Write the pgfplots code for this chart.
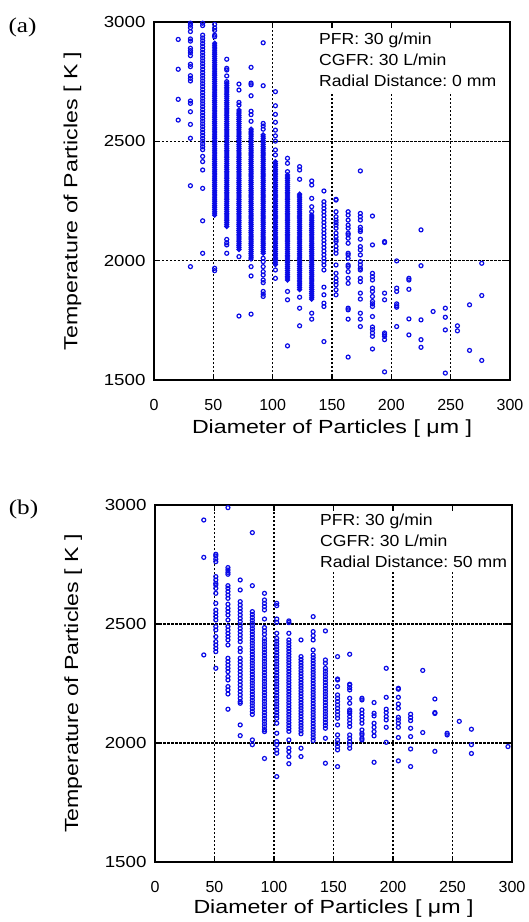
\documentclass[border=0pt]{standalone}
\usepackage{fontspec}
\setmainfont{Liberation Sans}
\newfontfamily\seriffont{Liberation Serif}
\usepackage{graphicx}
\usepackage{pgfplots}
\pgfplotsset{compat=1.18}
\frenchspacing
\definecolor{ptblue}{RGB}{10,10,230}
\newcommand\hs[2]{\scalebox{#1}[1]{#2}}
\pgfplotsset{
 myaxis/.style={
  scale only axis, axis on top,
  xmin=0,xmax=300,ymin=1500,ymax=3000,
  xtick={0,50,...,300}, ytick={1500,2000,2500,3000},
  grid=major,
  major grid style={black, line width=1.6pt, dash pattern=on 2.5pt off 1.5pt},
  axis line style={line width=2.8pt},
  tick align=inside, major tick length=6pt,
  tick style={black, line width=1.2pt},
  /pgf/number format/assume math mode=true,
  /pgf/number format/1000 sep={},
  xticklabel style={font=\fontsize{16}{19}\selectfont, yshift=-16pt},
  yticklabel style={font=\fontsize{16}{19}\selectfont, xshift=-5pt},
  yticklabel={\hs{1.17}{\pgfmathprintnumber{\tick}}},
  label style={font=\fontsize{19}{23}\selectfont},
  xlabel={\hs{1.22}{Diameter of Particles [ μm ]}},
  ylabel={\hs{1.22}{Temperature of Particles [ K ]}},
  ylabel style={at={(axis description cs:-0.229,0.5)}, anchor=center},
 },
 pts/.style={only marks, mark=o, mark size=2.0pt, color=ptblue, mark options={line width=1.2pt}},
 dense/.style={only marks, mark=o, mark size=1.8pt, color=ptblue, mark options={line width=1.5pt}},
}
\tikzset{nt/.style={anchor=base west, inner sep=0pt, font=\fontsize{16}{19}\selectfont}}
\begin{document}
\begin{tikzpicture}[x=1pt,y=1pt]
\useasboundingbox (0,0) rectangle (529,-922);
\node[font=\seriffont\fontsize{21}{24}\selectfont] at (22.5,-27.5) {\hs{1.2}{(a)}};
\node[font=\seriffont\fontsize{21}{24}\selectfont] at (23.5,-509) {\hs{1.2}{(b)}};
\begin{axis}[myaxis, width=356pt, height=358pt, at={(154pt,-380pt)}, anchor=south west,
  xlabel style={at={(axis description cs:0.5,-0.136)}, anchor=center}]
\addplot[pts] coordinates {
(20.4,2927)(20.4,2802)(20.4,2676)(20.4,2589)
(30.7,2995)(30.7,2987)(30.7,2976)(30.7,2960)(30.7,2929)(30.7,2920)(30.7,2890)(30.7,2880)(30.7,2871)(30.7,2859)(30.7,2823)(30.7,2813)(30.7,2775)(30.7,2764)(30.7,2753)(30.7,2669)(30.7,2659)(30.7,2624)(30.7,2571)(30.7,2513)(30.7,2314)(30.7,1975)
(41,2995)(41,2985)(41,2945)(41,2933)(41,2921)(41,2909)(41,2897)(41,2885)(41,2873)(41,2861)(41,2849)(41,2837)(41,2825)(41,2813)(41,2801)(41,2789)(41,2777)(41,2765)(41,2753)(41,2741)(41,2729)(41,2717)(41,2705)(41,2693)(41,2681)(41,2669)(41,2657)(41,2645)(41,2633)(41,2621)(41,2609)(41,2597)(41,2585)(41,2573)(41,2561)(41,2549)(41,2537)(41,2525)(41,2513)(41,2501)(41,2489)(41,2477)(41,2465)(41,2437)(41,2415)(41,2380)(41,2303)(41,2167)(41,2031)
(51.1,2990)(51.1,2975)(51.1,2965)(51.1,2945)(51.1,2938)(51.1,1968)(51.1,1958)
(61.3,2844)(61.3,2806)(61.3,2799)(61.3,2774)(61.3,2750)(61.3,2089)(61.3,2075)(61.3,2066)(61.3,2031)
(71.6,2740)(71.6,2715)(71.6,2663)(71.6,2652)(71.6,2017)(71.6,1768)
(81.8,2810)(81.8,2744)(81.8,2737)(81.8,2691)(81.8,2626)(81.8,2612)(81.8,2584)(81.8,1975)(81.8,1936)(81.8,1776)
(92,2913)(92,2733)(92,2575)(92,2564)(92,2551)(92,2010)(92,1996)(92,1975)(92,1954)(92,1940)(92,1919)(92,1908)(92,1871)(92,1860)(92,1850)
(102.3,2708)(102.3,2649)(102.3,2613)(102.3,2580)(102.3,2547)(102.3,2523)(102.3,2501)(102.3,2464)(102.3,2443)(102.3,1961)(102.3,1926)
(112.5,2429)(112.5,2408)(112.5,2373)(112.5,1871)(112.5,1836)(112.5,1643)
(122.7,2394)(122.7,2380)(122.7,2341)(122.7,1847)(122.7,1801)(122.7,1727)
(132.9,2334)(132.9,2317)(132.9,2261)(132.9,2226)(132.9,2205)(132.9,1780)(132.9,1755)
(143.2,2292)(143.2,2247)(143.2,2233)(143.2,2219)(143.2,2205)(143.2,2190)(143.2,2175)(143.2,2160)(143.2,2145)(143.2,2130)(143.2,2115)(143.2,2100)(143.2,2085)(143.2,2070)(143.2,2055)(143.2,2040)(143.2,2025)(143.2,2010)(143.2,1996)(143.2,1982)(143.2,1961)(143.2,1889)(143.2,1857)(143.2,1822)(143.2,1808)(143.2,1661)
(153.4,2257)(153.4,2254)(153.4,2205)(153.4,2184)(153.4,2170)(153.4,2160)(153.4,2149)(153.4,2136)(153.4,2115)(153.4,2100)(153.4,2087)(153.4,2080)(153.4,2060)(153.4,2045)(153.4,2031)(153.4,1982)(153.4,1947)(153.4,1926)(153.4,1912)(153.4,1899)(153.4,1878)(153.4,1857)
(163.6,2205)(163.6,2191)(163.6,2170)(163.6,2149)(163.6,2136)(163.6,2115)(163.6,2108)(163.6,2094)(163.6,2073)(163.6,2031)(163.6,2024)(163.6,2010)(163.6,1982)(163.6,1975)(163.6,1954)(163.6,1926)(163.6,1905)(163.6,1801)(163.6,1794)(163.6,1755)(163.6,1596)
(173.9,2376)(173.9,2198)(173.9,2184)(173.9,2170)(173.9,2140)(173.9,2129)(173.9,2122)(173.9,2090)(173.9,2059)(173.9,2045)(173.9,2024)(173.9,1996)(173.9,1982)(173.9,1968)(173.9,1961)(173.9,1926)(173.9,1912)(173.9,1864)(173.9,1839)(173.9,1780)(173.9,1755)(173.9,1724)
(184.1,2187)(184.1,2066)(184.1,1947)(184.1,1933)(184.1,1919)(184.1,1885)(184.1,1871)(184.1,1850)(184.1,1829)(184.1,1819)(184.1,1808)(184.1,1766)(184.1,1722)(184.1,1711)(184.1,1697)(184.1,1683)(184.1,1630)
(194.3,2080)(194.3,2076)(194.3,1864)(194.3,1836)(194.3,1697)(194.3,1690)(194.3,1683)(194.3,1669)(194.3,1534)
(204.5,1999)(204.5,1885)(204.5,1871)(204.5,1819)(204.5,1811)(204.5,1805)(204.5,1724)
(214.8,1926)(214.8,1919)(214.8,1880)(214.8,1756)(214.8,1689)
(225,2129)(225,1979)(225,1752)(225,1669)(225,1637)
(235.2,1787)
(245.5,1801)(245.5,1763)(245.5,1710)(245.5,1529)
(255.7,1727)(255.7,1706)
(265.9,1815)(265.9,1624)
(276.2,1989)(276.2,1854)(276.2,1582)
};
\addplot[dense] coordinates {
(51.1,2911)(51.1,2903)(51.1,2895)(51.1,2887)(51.1,2879)(51.1,2871)(51.1,2863)(51.1,2855)(51.1,2847)(51.1,2839)(51.1,2831)(51.1,2823)(51.1,2815)(51.1,2807)(51.1,2799)(51.1,2791)(51.1,2783)(51.1,2775)(51.1,2767)(51.1,2759)(51.1,2751)
(51.1,2743)(51.1,2735)(51.1,2727)(51.1,2719)(51.1,2711)(51.1,2703)(51.1,2695)(51.1,2687)(51.1,2679)(51.1,2671)(51.1,2663)(51.1,2655)(51.1,2647)(51.1,2639)
(51.1,2631)(51.1,2623)(51.1,2615)(51.1,2607)(51.1,2599)(51.1,2591)(51.1,2583)(51.1,2575)(51.1,2567)(51.1,2559)
(51.1,2551)(51.1,2543)(51.1,2535)
(51.1,2527)(51.1,2519)(51.1,2511)(51.1,2503)(51.1,2495)(51.1,2487)(51.1,2479)(51.1,2471)(51.1,2463)(51.1,2455)(51.1,2447)(51.1,2439)(51.1,2431)(51.1,2423)
(51.1,2415)(51.1,2407)(51.1,2399)(51.1,2391)(51.1,2383)(51.1,2375)(51.1,2367)
(51.1,2359)(51.1,2351)(51.1,2343)(51.1,2335)(51.1,2327)(51.1,2319)(51.1,2311)(51.1,2303)(51.1,2295)(51.1,2287)
(51.1,2279)(51.1,2271)(51.1,2263)(51.1,2255)(51.1,2247)(51.1,2239)(51.1,2231)(51.1,2223)(51.1,2215)(51.1,2207)(51.1,2199)
(51.1,2191)
};
\addplot[dense] coordinates {
(61.3,2743)(61.3,2735)(61.3,2727)(61.3,2719)(61.3,2711)(61.3,2703)(61.3,2695)(61.3,2687)(61.3,2679)(61.3,2671)(61.3,2663)(61.3,2655)(61.3,2647)(61.3,2639)
(61.3,2631)(61.3,2623)(61.3,2615)(61.3,2607)(61.3,2599)(61.3,2591)(61.3,2583)(61.3,2575)(61.3,2567)(61.3,2559)
(61.3,2551)(61.3,2543)(61.3,2535)
(61.3,2527)(61.3,2519)(61.3,2511)(61.3,2503)(61.3,2495)(61.3,2487)(61.3,2479)(61.3,2471)(61.3,2463)(61.3,2455)(61.3,2447)(61.3,2439)(61.3,2431)(61.3,2423)
(61.3,2415)(61.3,2407)(61.3,2399)(61.3,2391)(61.3,2383)(61.3,2375)(61.3,2367)
(61.3,2359)(61.3,2351)(61.3,2343)(61.3,2335)(61.3,2327)(61.3,2319)(61.3,2311)(61.3,2303)(61.3,2295)(61.3,2287)
(61.3,2279)(61.3,2271)(61.3,2263)(61.3,2255)(61.3,2247)(61.3,2239)(61.3,2231)(61.3,2223)(61.3,2215)(61.3,2207)(61.3,2199)
(61.3,2191)(61.3,2183)(61.3,2175)(61.3,2167)(61.3,2159)(61.3,2151)
(61.3,2143)
};
\addplot[dense] coordinates {
(71.6,2631)(71.6,2623)(71.6,2615)(71.6,2607)(71.6,2599)(71.6,2591)(71.6,2583)(71.6,2575)(71.6,2567)(71.6,2559)
(71.6,2551)(71.6,2543)(71.6,2535)
(71.6,2527)(71.6,2519)(71.6,2511)(71.6,2503)(71.6,2495)(71.6,2487)(71.6,2479)(71.6,2471)(71.6,2463)(71.6,2455)(71.6,2447)(71.6,2439)(71.6,2431)(71.6,2423)
(71.6,2415)(71.6,2407)(71.6,2399)(71.6,2391)(71.6,2383)(71.6,2375)(71.6,2367)
(71.6,2359)(71.6,2351)(71.6,2343)(71.6,2335)(71.6,2327)(71.6,2319)(71.6,2311)(71.6,2303)(71.6,2295)(71.6,2287)
(71.6,2279)(71.6,2271)(71.6,2263)(71.6,2255)(71.6,2247)(71.6,2239)(71.6,2231)(71.6,2223)(71.6,2215)(71.6,2207)(71.6,2199)
(71.6,2191)(71.6,2183)(71.6,2175)(71.6,2167)(71.6,2159)(71.6,2151)
(71.6,2143)(71.6,2135)(71.6,2127)(71.6,2119)(71.6,2111)(71.6,2103)(71.6,2095)(71.6,2087)(71.6,2079)(71.6,2071)(71.6,2063)(71.6,2055)
(71.6,2047)
};
\addplot[dense] coordinates {
(81.8,2551)(81.8,2543)(81.8,2535)
(81.8,2527)(81.8,2519)(81.8,2511)(81.8,2503)(81.8,2495)(81.8,2487)(81.8,2479)(81.8,2471)(81.8,2463)(81.8,2455)(81.8,2447)(81.8,2439)(81.8,2431)(81.8,2423)
(81.8,2415)(81.8,2407)(81.8,2399)(81.8,2391)(81.8,2383)(81.8,2375)(81.8,2367)
(81.8,2359)(81.8,2351)(81.8,2343)(81.8,2335)(81.8,2327)(81.8,2319)(81.8,2311)(81.8,2303)(81.8,2295)(81.8,2287)
(81.8,2279)(81.8,2271)(81.8,2263)(81.8,2255)(81.8,2247)(81.8,2239)(81.8,2231)(81.8,2223)(81.8,2215)(81.8,2207)(81.8,2199)
(81.8,2191)(81.8,2183)(81.8,2175)(81.8,2167)(81.8,2159)(81.8,2151)
(81.8,2143)(81.8,2135)(81.8,2127)(81.8,2119)(81.8,2111)(81.8,2103)(81.8,2095)(81.8,2087)(81.8,2079)(81.8,2071)(81.8,2063)(81.8,2055)
(81.8,2047)(81.8,2039)(81.8,2031)(81.8,2023)(81.8,2015)(81.8,2007)
};
\addplot[dense] coordinates {
(92,2527)(92,2519)(92,2511)(92,2503)(92,2495)(92,2487)(92,2479)(92,2471)(92,2463)(92,2455)(92,2447)(92,2439)(92,2431)(92,2423)
(92,2415)(92,2407)(92,2399)(92,2391)(92,2383)(92,2375)(92,2367)
(92,2359)(92,2351)(92,2343)(92,2335)(92,2327)(92,2319)(92,2311)(92,2303)(92,2295)(92,2287)
(92,2279)(92,2271)(92,2263)(92,2255)(92,2247)(92,2239)(92,2231)(92,2223)(92,2215)(92,2207)(92,2199)
(92,2191)(92,2183)(92,2175)(92,2167)(92,2159)(92,2151)
(92,2143)(92,2135)(92,2127)(92,2119)(92,2111)(92,2103)(92,2095)(92,2087)(92,2079)(92,2071)(92,2063)(92,2055)
(92,2047)(92,2039)(92,2031)
};
\addplot[dense] coordinates {
(102.3,2415)(102.3,2407)(102.3,2399)(102.3,2391)(102.3,2383)(102.3,2375)(102.3,2367)
(102.3,2359)(102.3,2351)(102.3,2343)(102.3,2335)(102.3,2327)(102.3,2319)(102.3,2311)(102.3,2303)(102.3,2295)(102.3,2287)
(102.3,2279)(102.3,2271)(102.3,2263)(102.3,2255)(102.3,2247)(102.3,2239)(102.3,2231)(102.3,2223)(102.3,2215)(102.3,2207)(102.3,2199)
(102.3,2191)(102.3,2183)(102.3,2175)(102.3,2167)(102.3,2159)(102.3,2151)
(102.3,2143)(102.3,2135)(102.3,2127)(102.3,2119)(102.3,2111)(102.3,2103)(102.3,2095)(102.3,2087)(102.3,2079)(102.3,2071)(102.3,2063)(102.3,2055)
(102.3,2047)(102.3,2039)(102.3,2031)(102.3,2023)(102.3,2015)(102.3,2007)(102.3,1999)(102.3,1991)(102.3,1983)
};
\addplot[dense] coordinates {
(112.5,2359)(112.5,2351)(112.5,2343)(112.5,2335)(112.5,2327)(112.5,2319)(112.5,2311)(112.5,2303)(112.5,2295)(112.5,2287)
(112.5,2279)(112.5,2271)(112.5,2263)(112.5,2255)(112.5,2247)(112.5,2239)(112.5,2231)(112.5,2223)(112.5,2215)(112.5,2207)(112.5,2199)
(112.5,2191)(112.5,2183)(112.5,2175)(112.5,2167)(112.5,2159)(112.5,2151)
(112.5,2143)(112.5,2135)(112.5,2127)(112.5,2119)(112.5,2111)(112.5,2103)(112.5,2095)(112.5,2087)(112.5,2079)(112.5,2071)(112.5,2063)(112.5,2055)
(112.5,2047)(112.5,2039)(112.5,2031)(112.5,2023)(112.5,2015)(112.5,2007)(112.5,1999)(112.5,1991)
(112.5,1983)(112.5,1975)(112.5,1967)(112.5,1959)(112.5,1951)(112.5,1943)(112.5,1935)(112.5,1927)(112.5,1919)
};
\addplot[dense] coordinates {
(122.7,2279)(122.7,2271)(122.7,2263)(122.7,2255)(122.7,2247)(122.7,2239)(122.7,2231)(122.7,2223)(122.7,2215)(122.7,2207)(122.7,2199)
(122.7,2191)(122.7,2183)(122.7,2175)(122.7,2167)(122.7,2159)(122.7,2151)
(122.7,2143)(122.7,2135)(122.7,2127)(122.7,2119)(122.7,2111)(122.7,2103)(122.7,2095)(122.7,2087)(122.7,2079)(122.7,2071)(122.7,2063)(122.7,2055)
(122.7,2047)(122.7,2039)(122.7,2031)(122.7,2023)(122.7,2015)(122.7,2007)(122.7,1999)(122.7,1991)
(122.7,1983)(122.7,1975)(122.7,1967)(122.7,1959)(122.7,1951)(122.7,1943)(122.7,1935)(122.7,1927)
(122.7,1919)(122.7,1911)(122.7,1903)(122.7,1895)(122.7,1887)(122.7,1879)
};
\addplot[dense] coordinates {
(132.9,2191)(132.9,2183)(132.9,2175)(132.9,2167)(132.9,2159)(132.9,2151)
(132.9,2143)(132.9,2135)(132.9,2127)(132.9,2119)(132.9,2111)(132.9,2103)(132.9,2095)(132.9,2087)(132.9,2079)(132.9,2071)(132.9,2063)(132.9,2055)
(132.9,2047)(132.9,2039)(132.9,2031)(132.9,2023)(132.9,2015)(132.9,2007)(132.9,1999)(132.9,1991)
(132.9,1983)(132.9,1975)(132.9,1967)(132.9,1959)(132.9,1951)(132.9,1943)(132.9,1935)(132.9,1927)
(132.9,1919)(132.9,1911)(132.9,1903)(132.9,1895)(132.9,1887)
(132.9,1879)(132.9,1871)(132.9,1863)(132.9,1855)(132.9,1847)(132.9,1839)
};
\end{axis}
\fill[white] (316,-28.5) rectangle (507.5,-92);
\node[nt] at (319,-44.3) {\hs{1.1}{PFR: 30 g/min}};
\node[nt] at (319,-65.3) {\hs{1.1}{CGFR: 30 L/min}};
\node[nt] at (319,-86.3) {\hs{1.1}{Radial Distance: 0 mm}};
\begin{axis}[myaxis, width=357pt, height=357pt, at={(155pt,-862pt)}, anchor=south west,
  xlabel style={at={(axis description cs:0.5,-0.130)}, anchor=center}]
\addplot[pts] coordinates {
(41,2937)(41,2780)(41,2370)
(51.1,2793)(51.1,2786)(51.1,2773)(51.1,2762)(51.1,2699)(51.1,2685)(51.1,2671)(51.1,2664)(51.1,2650)(51.1,2629)(51.1,2587)(51.1,2559)(51.1,2545)(51.1,2531)(51.1,2517)(51.1,2489)(51.1,2475)(51.1,2447)(51.1,2426)(51.1,2412)(51.1,2398)(51.1,2384)(51.1,2314)
(61.3,2989)(61.3,2737)(61.3,2727)(61.3,2717)(61.3,2709)(61.3,2661)(61.3,2650)(61.3,2636)(61.3,2622)(61.3,2608)(61.3,2583)(61.3,2566)(61.3,2552)(61.3,2538)(61.3,2517)(61.3,2489)(61.3,2475)(61.3,2461)(61.3,2447)(61.3,2433)(61.3,2412)(61.3,2356)(61.3,2342)(61.3,2328)(61.3,2314)(61.3,2300)(61.3,2279)(61.3,2265)(61.3,2237)(61.3,2223)(61.3,2206)(61.3,2142)
(71.6,2685)(71.6,2643)(71.6,2594)(71.6,2580)(71.6,2566)(71.6,2552)(71.6,2538)(71.6,2524)(71.6,2510)(71.6,2496)(71.6,2482)(71.6,2468)(71.6,2454)(71.6,2440)(71.6,2426)(71.6,2398)(71.6,2384)(71.6,2356)(71.6,2342)(71.6,2328)(71.6,2314)(71.6,2300)(71.6,2286)(71.6,2272)(71.6,2258)(71.6,2244)(71.6,2230)(71.6,2216)(71.6,2202)(71.6,2188)(71.6,2174)(71.6,2167)(71.6,2076)(71.6,2031)
(81.8,2884)(81.8,2661)(81.8,2552)(81.8,2540)(81.8,2528)(81.8,2516)(81.8,2504)(81.8,2492)(81.8,2480)(81.8,2468)(81.8,2456)(81.8,2444)(81.8,2432)(81.8,2420)(81.8,2408)(81.8,2396)(81.8,2384)(81.8,2372)(81.8,2360)(81.8,2348)(81.8,2336)(81.8,2324)(81.8,2312)(81.8,2300)(81.8,2288)(81.8,2276)(81.8,2264)(81.8,2252)(81.8,2240)(81.8,2228)(81.8,2216)(81.8,2204)(81.8,2192)(81.8,2180)(81.8,2168)(81.8,2156)(81.8,2144)(81.8,2132)(81.8,2120)(81.8,2013)(81.8,1993)
(92,2629)(92,2601)(92,2587)(92,2573)(92,2559)(92,2521)(92,2485)(92,2471)(92,2457)(92,2440)(92,2428)(92,2416)(92,2404)(92,2392)(92,2380)(92,2368)(92,2356)(92,2344)(92,2332)(92,2320)(92,2308)(92,2296)(92,2284)(92,2272)(92,2260)(92,2248)(92,2236)(92,2224)(92,2212)(92,2200)(92,2188)(92,2176)(92,2164)(92,2152)(92,2140)(92,2128)(92,2116)(92,2104)(92,2092)(92,2080)(92,2068)(92,2056)(92,2048)(92,1935)
(102.3,2587)(102.3,2577)(102.3,2521)(102.3,2507)(102.3,2461)(102.3,2440)(102.3,2428)(102.3,2416)(102.3,2404)(102.3,2392)(102.3,2380)(102.3,2368)(102.3,2356)(102.3,2344)(102.3,2332)(102.3,2320)(102.3,2308)(102.3,2296)(102.3,2284)(102.3,2272)(102.3,2260)(102.3,2248)(102.3,2236)(102.3,2224)(102.3,2212)(102.3,2200)(102.3,2188)(102.3,2176)(102.3,2164)(102.3,2152)(102.3,2140)(102.3,2128)(102.3,2116)(102.3,2104)(102.3,2083)(102.3,2041)(102.3,2006)(102.3,1993)(102.3,1971)(102.3,1957)(102.3,1859)
(112.5,2513)(112.5,2506)(112.5,2461)(112.5,2433)(112.5,2421)(112.5,2409)(112.5,2397)(112.5,2385)(112.5,2373)(112.5,2361)(112.5,2349)(112.5,2337)(112.5,2325)(112.5,2313)(112.5,2301)(112.5,2289)(112.5,2277)(112.5,2265)(112.5,2253)(112.5,2241)(112.5,2229)(112.5,2217)(112.5,2205)(112.5,2193)(112.5,2181)(112.5,2169)(112.5,2157)(112.5,2145)(112.5,2133)(112.5,2121)(112.5,2109)(112.5,2097)(112.5,2085)(112.5,2073)(112.5,2061)(112.5,2049)(112.5,2013)(112.5,1978)(112.5,1964)(112.5,1943)(112.5,1913)
(122.7,2433)(122.7,2363)(122.7,2351)(122.7,2339)(122.7,2327)(122.7,2315)(122.7,2303)(122.7,2291)(122.7,2279)(122.7,2267)(122.7,2255)(122.7,2243)(122.7,2231)(122.7,2219)(122.7,2207)(122.7,2195)(122.7,2183)(122.7,2171)(122.7,2159)(122.7,2147)(122.7,2135)(122.7,2123)(122.7,2111)(122.7,2099)(122.7,2087)(122.7,2075)(122.7,2063)(122.7,2051)(122.7,2039)(122.7,1978)(122.7,1943)
(132.9,2531)(132.9,2468)(132.9,2451)(132.9,2433)(132.9,2391)(132.9,2370)(132.9,2358)(132.9,2346)(132.9,2334)(132.9,2322)(132.9,2310)(132.9,2298)(132.9,2286)(132.9,2274)(132.9,2262)(132.9,2250)(132.9,2238)(132.9,2226)(132.9,2214)(132.9,2202)(132.9,2190)(132.9,2178)(132.9,2166)(132.9,2154)(132.9,2142)(132.9,2130)(132.9,2118)(132.9,2106)(132.9,2094)(132.9,2082)(132.9,2070)(132.9,2058)(132.9,2046)(132.9,2034)(132.9,2022)(132.9,2010)
(143.2,2471)(143.2,2349)(143.2,2335)(143.2,2314)(143.2,2302)(143.2,2290)(143.2,2278)(143.2,2266)(143.2,2254)(143.2,2242)(143.2,2230)(143.2,2218)(143.2,2206)(143.2,2194)(143.2,2182)(143.2,2170)(143.2,2158)(143.2,2146)(143.2,2134)(143.2,2122)(143.2,2110)(143.2,2098)(143.2,2086)(143.2,2074)(143.2,2062)(143.2,2020)(143.2,1915)
(153.4,2363)(153.4,2269)(153.4,2265)(153.4,2237)(153.4,2202)(153.4,2188)(153.4,2174)(153.4,2160)(153.4,2146)(153.4,2132)(153.4,2118)(153.4,2104)(153.4,2076)(153.4,2034)(153.4,2013)(153.4,1999)(153.4,1985)(153.4,1971)(153.4,1901)
(163.6,2373)(163.6,2247)(163.6,2244)(163.6,2233)(163.6,2223)(163.6,2188)(163.6,2167)(163.6,2139)(163.6,2132)(163.6,2125)(163.6,2111)(163.6,2097)(163.6,2083)(163.6,2069)(163.6,2034)(163.6,2020)(163.6,2006)(163.6,1992)(163.6,1978)
(173.9,2188)(173.9,2181)(173.9,2139)(173.9,2125)(173.9,2111)(173.9,2097)(173.9,2083)(173.9,2055)(173.9,2041)(173.9,2034)(173.9,2020)(173.9,2013)
(184.1,2170)(184.1,2125)(184.1,2114)(184.1,2083)(184.1,2066)(184.1,2048)(184.1,2030)(184.1,1919)
(194.3,2314)(194.3,2192)(194.3,2142)(194.3,2128)(194.3,2111)(194.3,2097)(194.3,2066)(194.3,2003)
(204.5,2230)(204.5,2226)(204.5,2192)(204.5,2164)(204.5,2146)(204.5,2108)(204.5,2097)(204.5,2083)(204.5,2066)(204.5,2023)(204.5,1925)
(214.8,2121)(214.8,2107)(214.8,2094)(214.8,2062)(214.8,2027)(214.8,1975)(214.8,1901)
(225,2305)(225,2044)
(235.2,2185)(235.2,2128)(235.2,2124)(235.2,1965)
(245.5,2041)(245.5,2034)
(255.7,2091)
(265.9,2058)(265.9,1993)(265.9,1956)
(296.6,1985)
};
\end{axis}
\fill[white] (317,-511.5) rectangle (509.5,-572);
\node[nt] at (320,-525.7) {\hs{1.1}{PFR: 30 g/min}};
\node[nt] at (320,-546.7) {\hs{1.1}{CGFR: 30 L/min}};
\node[nt] at (320,-567.7) {\hs{1.1}{Radial Distance: 50 mm}};
\end{tikzpicture}
\end{document}
